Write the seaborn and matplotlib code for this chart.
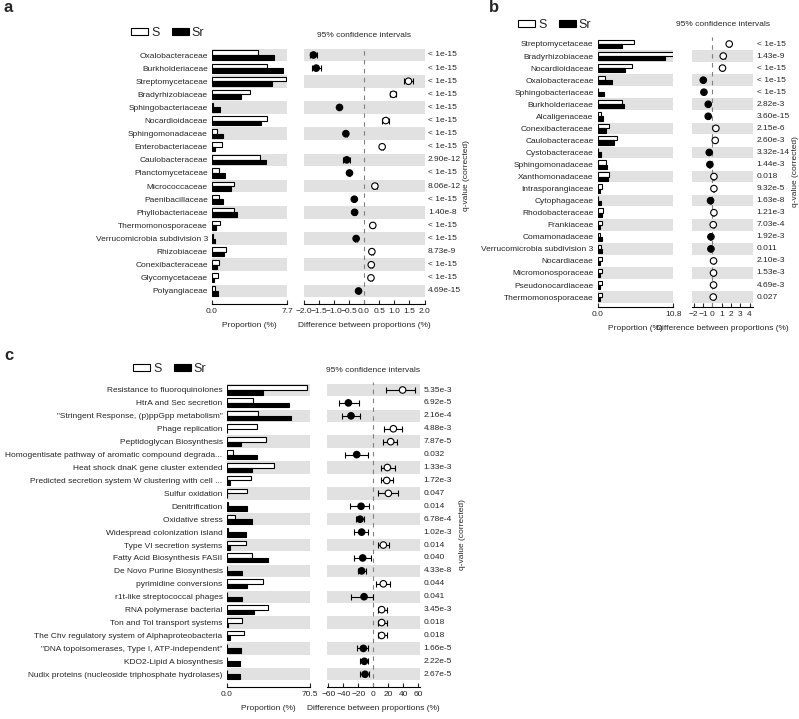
import numpy as np
import pandas as pd
import seaborn as sns
import matplotlib.pyplot as plt
from matplotlib.patches import Patch
from matplotlib import transforms

# ---- panel a ----
a_names = ["Oxalobacteraceae", "Burkholderiaceae", "Streptomycetaceae", "Bradyrhizobiaceae",
           "Sphingobacteriaceae", "Nocardioidaceae", "Sphingomonadaceae", "Enterobacteriaceae",
           "Caulobacteraceae", "Planctomycetaceae", "Micrococcaceae", "Paenibacillaceae",
           "Phyllobacteriaceae", "Thermomonosporaceae", "Verrucomicrobia subdivision 3",
           "Rhizobiaceae", "Conexibacteraceae", "Glycomycetaceae", "Polyangiaceae"]
a_s = [4.76, 5.69, 7.59, 3.90, 0.07, 5.69, 0.52, 1.03, 4.93, 0.69, 2.24, 0.69, 2.24, 0.79,
       0.07, 1.41, 0.72, 0.59, 0.34]
a_sr = [6.38, 7.24, 6.17, 2.93, 0.86, 5.00, 1.14, 0.34, 5.55, 1.31, 1.90, 1.14, 2.59, 0.45,
        0.34, 1.21, 0.52, 0.24, 0.62]
a_diff = [-1.67, -1.58, 1.47, 0.97, -0.81, 0.72, -0.60, 0.60, -0.57, -0.48, 0.36, -0.32,
          -0.31, 0.29, -0.26, 0.26, 0.24, 0.23, -0.18]
a_err = [0.13, 0.15, 0.16, 0.10, 0.03, 0.12, 0.03, 0.03, 0.12, 0.03, 0.07, 0.03, 0.06, 0.03,
         0.03, 0.03, 0.03, 0.03, 0.03]
a_q = ["< 1e-15"] * 8 + ["2.90e-12", "< 1e-15", "8.06e-12", "< 1e-15", "1.40e-8", "< 1e-15",
                         "< 1e-15", "8.73e-9", "< 1e-15", "< 1e-15", "4.69e-15"]

# ---- panel b ----
b_names = ["Streptomycetaceae", "Bradyrhizobiaceae", "Nocardioidaceae", "Oxalobacteraceae",
           "Sphingobacteriaceae", "Burkholderiaceae", "Alcaligenaceae", "Conexibacteraceae",
           "Caulobacteraceae", "Cystobacteraceae", "Sphingomonadaceae", "Xanthomonadaceae",
           "Intrasporangiaceae", "Cytophagaceae", "Rhodobacteraceae", "Frankiaceae",
           "Comamonadaceae", "Verrucomicrobia subdivision 3", "Nocardiaceae",
           "Micromonosporaceae", "Pseudonocardiaceae", "Thermomonosporaceae"]
b_s = [5.19, 10.70, 4.95, 1.05, 0.10, 3.43, 0.48, 1.67, 2.71, 0.10, 1.19, 1.67, 0.62, 0.10,
       0.71, 0.62, 0.33, 0.43, 0.57, 0.57, 0.57, 0.62]
b_sr = [3.52, 9.62, 3.90, 2.00, 0.90, 3.76, 0.81, 1.19, 2.38, 0.48, 1.38, 1.52, 0.33, 0.48,
        0.57, 0.33, 0.57, 0.67, 0.29, 0.29, 0.29, 0.33]
b_diff = [1.82, 1.18, 1.10, -0.96, -0.89, -0.43, -0.43, 0.39, 0.32, -0.32, -0.25, 0.18, 0.18,
          -0.18, 0.18, 0.11, -0.14, -0.14, 0.14, 0.14, 0.14, 0.11]
b_err = [0.10, 0.18, 0.10, 0.05, 0.05, 0.06, 0.05, 0.05, 0.05, 0.05, 0.05, 0.05, 0.05, 0.05,
         0.05, 0.05, 0.05, 0.05, 0.05, 0.05, 0.05, 0.05]
b_q = ["< 1e-15", "1.43e-9", "< 1e-15", "< 1e-15", "< 1e-15", "2.82e-3", "3.60e-15", "2.15e-6",
       "2.60e-3", "3.32e-14", "1.44e-3", "0.018", "9.32e-5", "1.63e-8", "1.21e-3", "7.03e-4",
       "1.92e-3", "0.011", "2.10e-3", "1.53e-3", "4.69e-3", "0.027"]

# ---- panel c ----
c_names = ["Resistance to fluoroquinolones", "HtrA and Sec secretion",
           '"Stringent Response, (p)ppGpp metabolism"', "Phage replication",
           "Peptidoglycan Biosynthesis", "Homogentisate pathway of aromatic compound degrada...",
           "Heat shock dnaK gene cluster extended",
           "Predicted secretion system W clustering with cell ...", "Sulfur oxidation",
           "Denitrification", "Oxidative stress", "Widespread colonization island",
           "Type VI secretion systems", "Fatty Acid Biosynthesis FASII",
           "De Novo Purine Biosynthesis", "pyrimidine conversions",
           "r1t-like streptococcal phages", "RNA polymerase bacterial",
           "Ton and Tol transport systems", "The Chv regulatory system of Alphaproteobacteria",
           '"DNA topoisomerases, Type I, ATP-independent"', "KDO2-Lipid A biosynthesis",
           "Nudix proteins (nucleoside triphosphate hydrolases)"]
c_s = [67.7, 22.0, 26.8, 25.9, 33.0, 5.1, 40.0, 20.3, 16.9, 1.4, 7.0, 1.4, 16.1, 21.2, 0.6,
       30.5, 0.6, 34.7, 13.3, 14.7, 0.0, 0.0, 0.0]
c_sr = [31.0, 53.0, 54.1, 0.6, 11.8, 25.9, 21.7, 2.8, 0.5, 17.5, 21.7, 16.1, 2.8, 34.7, 13.3,
        17.5, 13.3, 23.1, 1.1, 2.8, 11.8, 11.3, 11.3]
c_diff = [39.0, -33.3, -29.8, 26.7, 23.1, -22.2, 18.7, 17.8, 20.0, -16.4, -17.8, -15.6, 13.3,
          -14.2, -15.6, 13.3, -12.4, 11.1, 11.1, 11.1, -13.3, -12.0, -11.1]
c_low = [17.0, -45.3, -41.3, 14.2, 13.3, -37.8, 10.2, 10.2, 6.7, -31.0, -23.0, -25.8, 5.8,
         -25.3, -20.9, 3.6, -30.2, 5.8, 5.8, 5.8, -22.2, -17.8, -17.8]
c_high = [55.6, -19.1, -17.8, 37.8, 31.0, -6.7, 28.9, 26.7, 33.3, -5.3, -12.4, -6.7, 21.3,
          -3.6, -9.8, 22.2, 0.0, 17.8, 17.8, 17.8, -6.7, -6.7, -5.3]
c_q = ["5.35e-3", "6.92e-5", "2.16e-4", "4.88e-3", "7.87e-5", "0.032", "1.33e-3", "1.72e-3",
       "0.047", "0.014", "6.78e-4", "1.02e-3", "0.014", "0.040", "4.33e-8", "0.044", "0.041",
       "3.45e-3", "0.018", "0.018", "1.66e-5", "2.22e-5", "2.67e-5"]

sns.set_style("white")
plt.rcParams['font.family'] = ['Liberation Sans', 'DejaVu Sans']

W, H = 799, 719
fig = plt.figure(figsize=(W / 100, H / 100), dpi=100)
FS = 6.0
SHADE = "#e1e1e1"
groups = {"S": "white", "Sr": "black"}


def add_ax(x0, x1, y0, y1):
    return fig.add_axes([x0 / W, 1 - y1 / H, (x1 - x0) / W, (y1 - y0) / H])


def panel(letter, names, s, sr, diff, low, high, q, pmax, ci_lim, ci_ticks,
          first_y, step, pad_bot, bar_x, ci_x, leg_xy, letter_xy):
    n = len(names)
    top = first_y - 0.6 * step
    bot = first_y + (n - 1 + pad_bot) * step
    ax_b = add_ax(bar_x[0], bar_x[1], top, bot)
    ax_c = add_ax(ci_x[0], ci_x[1], top, bot)

    for ax in (ax_b, ax_c):
        for i in range(n):
            if (n - 1 - i) % 2 == 0:
                ax.axhspan(i - 0.48, i + 0.48, color=SHADE, lw=0, zorder=0)

    df = pd.DataFrame({"name": list(names) * 2, "prop": list(s) + list(sr),
                       "group": ["S"] * n + ["Sr"] * n})
    sns.barplot(data=df, y="name", x="prop", hue="group", order=names,
                hue_order=["S", "Sr"], palette=groups, orient="h", width=0.7,
                edgecolor="black", linewidth=0.8, errorbar=None, ax=ax_b, legend=False)
    ax_b.set_xlim(0, pmax)
    ax_b.set_xticks([0, pmax])
    ax_b.set_xticklabels(["0.0", f"{pmax:.1f}"])
    ax_b.set_ylim(n - 1 + pad_bot, -0.6)
    ax_b.set_ylabel("")
    ax_b.set_xlabel("Proportion (%)", fontsize=FS, labelpad=5)
    ax_b.tick_params(axis="y", length=0, pad=3, labelsize=FS)

    rows = np.arange(n)
    diff = np.array(diff)
    ax_c.axvline(0, color="gray", ls=(0, (4, 4)), lw=0.8, zorder=1)
    ax_c.errorbar(diff, rows, xerr=[diff - np.array(low), np.array(high) - diff], fmt="none",
                  ecolor="black", elinewidth=0.8, capsize=2.5, capthick=0.8, zorder=2)
    pts = pd.DataFrame({"diff": diff, "row": rows,
                        "side": np.where(diff > 0, "S", "Sr")})
    sns.scatterplot(data=pts, x="diff", y="row", hue="side", palette=groups,
                    edgecolor="black", linewidth=0.8, s=22, ax=ax_c, legend=False, zorder=3)
    ax_c.set_xlim(ci_lim)
    ax_c.set_xticks(ci_ticks)
    ax_c.set_ylim(n - 1 + pad_bot, -0.6)
    ax_c.set_yticks([])
    ax_c.set_ylabel("")
    ax_c.set_xlabel("Difference between proportions (%)", fontsize=FS, labelpad=5)

    for ax in (ax_b, ax_c):
        sns.despine(ax=ax, left=True)
        ax.spines["bottom"].set_linewidth(0.8)
        ax.spines["bottom"].set_color("black")
        ax.tick_params(axis="x", bottom=True, direction="in", length=3, width=0.8,
                       labelsize=FS, pad=3)

    trans = transforms.blended_transform_factory(ax_c.transAxes, ax_c.transData)
    for i, qq in enumerate(q):
        ax_c.annotate(qq, xy=(1, i), xycoords=trans, xytext=(2.5, 0),
                      textcoords="offset points", ha="left", va="center", fontsize=FS)
    ax_c.annotate("q-value (corrected)", xy=(1, 0.5), xycoords="axes fraction",
                  xytext=(30.5, 0), textcoords="offset points", rotation=90,
                  ha="center", va="center", fontsize=FS)
    ax_c.annotate("95% confidence intervals", xy=(0.5, 1), xycoords="axes fraction",
                  xytext=(0, 8.5), textcoords="offset points", ha="center", va="center",
                  fontsize=FS)

    handles = [Patch(facecolor="white", edgecolor="black", lw=0.8),
               Patch(facecolor="black", edgecolor="black", lw=0.8)]
    fig.legend(handles, ["S", "Sr"], loc="center left",
               bbox_to_anchor=(leg_xy[0] / W, 1 - leg_xy[1] / H), ncol=2, frameon=False,
               prop={"size": 9}, handlelength=1.35, handleheight=0.4, handletextpad=0.25,
               columnspacing=1.0, borderpad=0, borderaxespad=0)
    fig.text(letter_xy[0] / W, 1 - letter_xy[1] / H, letter, fontsize=12, fontweight="bold",
             ha="left", va="center")


panel("a", a_names, a_s, a_sr, a_diff, np.array(a_diff) - np.array(a_err),
      np.array(a_diff) + np.array(a_err), a_q, 7.7, (-2.0, 2.0), np.arange(-2, 2.01, 0.5),
      55, 13.11, 1.0, (212, 287), (303.5, 424.5), (131, 33), (4, 8))
panel("b", b_names, b_s, b_sr, b_diff, np.array(b_diff) - np.array(b_err),
      np.array(b_diff) + np.array(b_err), b_q, 10.8, (-2.2, 4.4), np.arange(-2, 5, 1),
      44, 12.05, 0.85, (597.7, 673.3), (691.7, 753.3), (518, 25), (489, 8))
panel("c", c_names, c_s, c_sr, c_diff, c_low, c_high, c_q, 70.5, (-62.2, 62.2),
      np.arange(-60, 61, 20), 390, 12.92, 0.96, (226.7, 310), (326.7, 420), (133, 369), (4, 356))

fig.savefig("out.png", dpi=100)
